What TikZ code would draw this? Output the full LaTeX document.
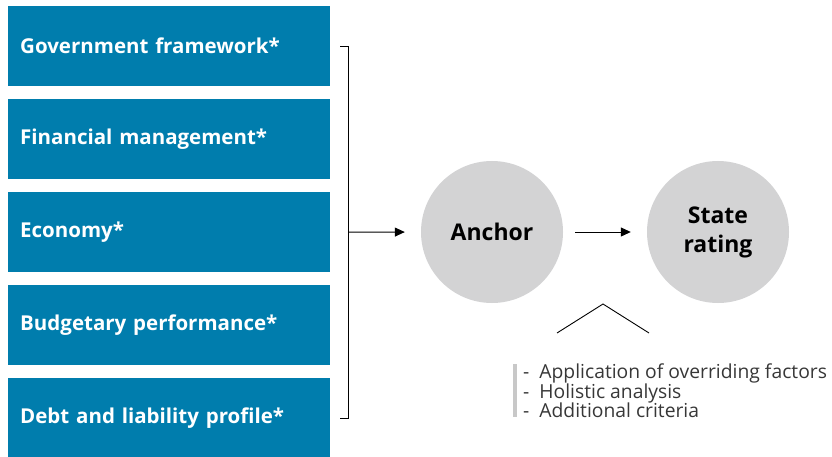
\documentclass[tikz,border=0pt]{standalone}
\usepackage{fontspec}
\setmainfont{Open Sans}
\usetikzlibrary{arrows.meta}
\definecolor{boxblue}{RGB}{0,125,173}
\definecolor{circgray}{RGB}{211,211,212}
\definecolor{bargray}{RGB}{200,200,200}
\definecolor{listtext}{RGB}{55,55,55}
\tikzset{
  factor/.style={fill=boxblue, text=white, minimum width=322pt, minimum height=80pt,
    anchor=north west, inner sep=0pt, inner xsep=12pt, text width=298pt, align=left,
    font=\fontsize{20.5}{24}\selectfont\bfseries},
  stage/.style={circle, fill=circgray, minimum size=142pt, inner sep=0pt, align=center,
    font=\fontsize{23}{29}\selectfont\bfseries},
  conn/.style={line width=1pt, black},
  arr/.style={conn, -{Triangle[length=10pt,width=9pt]}},
}
\begin{document}
\begin{tikzpicture}[x=1pt,y=-1pt]
\useasboundingbox (0,0) rectangle (832,457);
\node[factor] (b1) at (8,6) {Government framework*};
\node[factor] (b2) at (8,99) {Financial management*};
\node[factor] (b3) at (8,192) {Economy*};
\node[factor] (b4) at (8,285) {Budgetary performance*};
\node[factor] (b5) at (8,378) {Debt and liability profile*};

\node[stage] (anchor) at (492,232) {Anchor};
\node[stage] (state) at (718,232) {State\\rating};

\draw[conn] ([xshift=10pt]b1.east) -| ([xshift=18pt]b5.east) -- ([xshift=10pt]b5.east);
\draw[arr, shorten >=16pt] ([xshift=18pt]b3.east) -- (anchor.west);
\draw[arr, shorten <=12pt, shorten >=16pt] (anchor.east) -- (state.west);

\draw[line width=0.9pt] (557,333) -- (603,304) -- (649,333);
\fill[bargray] (513,364) rectangle (517,417);
\node[anchor=north west, inner sep=0pt, align=left, text=listtext,
  font=\fontsize{19.3}{19.5}\selectfont] (list) at (523,364)
  {- \ Application of overriding factors\\- \ Holistic analysis\\- \ Additional criteria};
\end{tikzpicture}
\end{document}
